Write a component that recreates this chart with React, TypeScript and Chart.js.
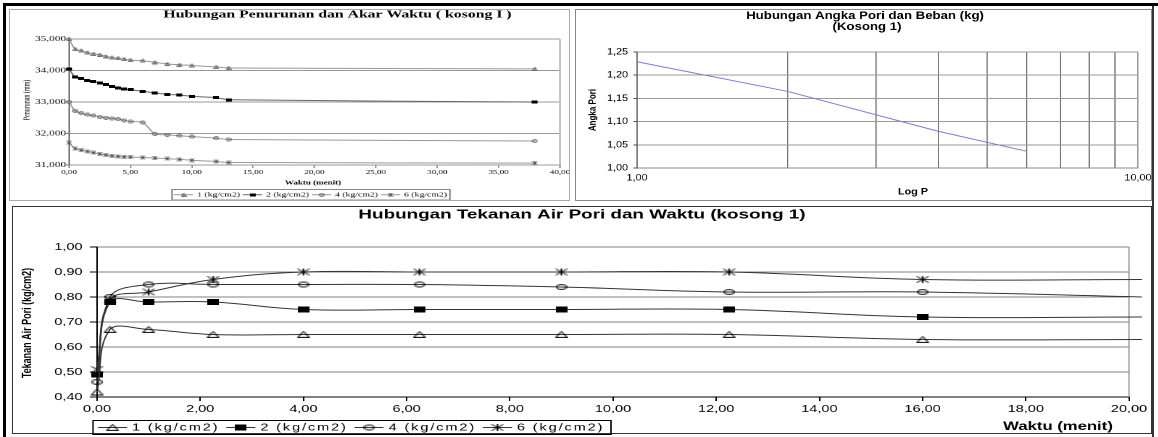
import React, { useEffect, useRef } from "react";
import { Chart, registerables } from "chart.js";
Chart.register(...registerables);

// ---------------- DATA ----------------
const seriesLabels = ["1 (kg/cm2)", "2 (kg/cm2)", "4 (kg/cm2)", "6 (kg/cm2)"];

// Chart 1: Hubungan Penurunan dan Akar Waktu (kosong I)
const akarWaktu = [0, 0.5, 1, 1.5, 2, 2.5, 3, 3.5, 4, 4.5, 5, 6, 7, 8, 9, 10, 12, 13, 37.95];
const penurunan1 = [35.0, 34.68, 34.63, 34.57, 34.53, 34.5, 34.45, 34.41, 34.39, 34.36, 34.33, 34.31, 34.26, 34.21, 34.18, 34.16, 34.11, 34.08, 34.05];
const penurunan2 = [34.05, 33.79, 33.74, 33.69, 33.65, 33.6, 33.55, 33.5, 33.45, 33.41, 33.39, 33.34, 33.29, 33.24, 33.22, 33.18, 33.14, 33.07, 33.0];
const penurunan4 = [33.0, 32.72, 32.65, 32.6, 32.57, 32.53, 32.5, 32.48, 32.46, 32.42, 32.38, 32.35, 31.99, 31.96, 31.93, 31.9, 31.85, 31.81, 31.76];
const penurunan6 = [31.71, 31.52, 31.47, 31.43, 31.39, 31.35, 31.32, 31.29, 31.27, 31.26, 31.25, 31.24, 31.22, 31.2, 31.18, 31.15, 31.11, 31.08, 31.06];
const penurunanAxis = [31, 35, 1]; // min, max, step
const akarWaktuAxis = [0, 40, 5];

// Chart 2: Hubungan Angka Pori dan Beban (Kosong 1)
const bebanP = [1, 2, 4, 6];
const angkaPori = [1.229, 1.165, 1.079, 1.036];
const angkaPoriAxis = [1.0, 1.25, 0.05];
const logPTicks = [1, 2, 3, 4, 5, 6, 7, 8, 9, 10];
const logPLabels = ["1,00", "10,00"];

// Chart 3: Hubungan Tekanan Air Pori dan Waktu (kosong 1)
const waktu = [0, 0.25, 1, 2.25, 4, 6.25, 9, 12.25, 16, 20.25];
const tekanan1 = [0.42, 0.67, 0.67, 0.65, 0.65, 0.65, 0.65, 0.65, 0.63, 0.63];
const tekanan2 = [0.49, 0.78, 0.78, 0.78, 0.75, 0.75, 0.75, 0.75, 0.72, 0.72];
const tekanan4 = [0.46, 0.8, 0.85, 0.85, 0.85, 0.85, 0.84, 0.82, 0.82, 0.8];
const tekanan6 = [0.51, 0.79, 0.82, 0.87, 0.9, 0.9, 0.9, 0.9, 0.87, 0.87];
const tekananAxis = [0.4, 1.0, 0.1];
const waktuAxis = [0, 20, 2];

// ---------------- HELPERS ----------------
const SANS = "'Liberation Sans', Arial, sans-serif";
const SERIF = "'Liberation Serif', 'Times New Roman', serif";
const fmt = (v: any, d: number) => Number(v).toFixed(d).replace(".", ",");

type Box = { x: number; y: number; w: number; h: number; lw: number };
const conv = (b: Box) => {
  const k = b.lw / b.w;
  return { X: (px: number) => (px - b.x) * k, Y: (py: number) => py - b.y, S: (d: number) => d * k };
};
function frameLayout(b: Box, a: { l: number; r: number; t: number; b: number }, xAxisH: number) {
  const c = conv(b);
  return {
    padding: { left: 0, top: c.Y(a.t), right: b.lw - c.X(a.r), bottom: b.h - c.Y(a.b) - xAxisH },
    yW: c.X(a.l),
  };
}

function marker(kind: string, w: number, h: number, color: string) {
  const c = document.createElement("canvas");
  c.width = w;
  c.height = h;
  const g = c.getContext("2d")!;
  g.strokeStyle = color;
  g.fillStyle = color;
  g.lineWidth = 1;
  g.beginPath();
  if (kind === "tri") {
    g.moveTo(w / 2, 0.5);
    g.lineTo(w - 0.5, h - 0.5);
    g.lineTo(0.5, h - 0.5);
    g.closePath();
    g.stroke();
  } else if (kind === "rect") {
    g.fillRect(0, 0, w, h);
  } else if (kind === "circ") {
    g.ellipse(w / 2, h / 2, w / 2 - 0.5, h / 2 - 0.5, 0, 0, Math.PI * 2);
    g.stroke();
  } else {
    g.moveTo(0.5, 0.5);
    g.lineTo(w - 0.5, h - 0.5);
    g.moveTo(w - 0.5, 0.5);
    g.lineTo(0.5, h - 0.5);
    g.moveTo(w / 2, 0);
    g.lineTo(w / 2, h);
    g.stroke();
  }
  return c;
}

const framePlugin = (color: string) => ({
  id: "frame",
  beforeDatasetsDraw(chart: any) {
    const { ctx, chartArea: a } = chart;
    ctx.save();
    ctx.strokeStyle = color;
    ctx.lineWidth = 1;
    ctx.beginPath();
    ctx.moveTo(a.right, a.top);
    ctx.lineTo(a.right, a.bottom);
    ctx.stroke();
    ctx.restore();
  },
});

type T = { text: string; x: number; y: number; font: string; rot?: number };
const textPlugin = (items: T[]) => ({
  id: "texts",
  afterDraw(chart: any) {
    const ctx = chart.ctx;
    items.forEach((t) => {
      ctx.save();
      ctx.font = t.font;
      ctx.fillStyle = "#000";
      ctx.textAlign = "center";
      ctx.textBaseline = "middle";
      ctx.translate(t.x, t.y);
      if (t.rot) ctx.rotate(t.rot);
      ctx.fillText(t.text, 0, 0);
      ctx.restore();
    });
  },
});

type LG = { x: number; y: number; w: number; h: number; x0: number; step: number; len: number; off: number; font: string; spacing?: string; box: string };
const legendPlugin = (g: LG) => ({
  id: "customLegend",
  afterDraw(chart: any) {
    const ctx = chart.ctx;
    ctx.save();
    ctx.strokeStyle = g.box;
    ctx.lineWidth = 1;
    ctx.strokeRect(g.x, g.y, g.w, g.h);
    const yc = g.y + g.h / 2;
    chart.data.datasets.forEach((ds: any, i: number) => {
      const x0 = g.x0 + i * g.step;
      ctx.strokeStyle = ds.borderColor;
      ctx.beginPath();
      ctx.moveTo(x0, yc);
      ctx.lineTo(x0 + g.len, yc);
      ctx.stroke();
      const img = ds.pointStyle;
      ctx.drawImage(img, x0 + g.len / 2 - img.width / 2, yc - img.height / 2);
      ctx.save();
      ctx.font = g.font;
      ctx.fillStyle = "#000";
      ctx.textAlign = "left";
      ctx.textBaseline = "middle";
      if (g.spacing) (ctx as any).letterSpacing = g.spacing;
      ctx.fillText(ds.label, x0 + g.off, yc);
      ctx.restore();
    });
    ctx.restore();
  },
});

// ---------------- CHART 1 ----------------
const TL: Box = { x: 10, y: 9, w: 559, h: 191, lw: 373 };
function makeTL(): any {
  const c = conv(TL);
  const lay = frameLayout(TL, { l: 69, r: 560, t: 39, b: 165 }, 12);
  const mk = [marker("tri", 4, 4, "#666"), marker("rect", 4, 3, "#000"), marker("circ", 4, 4, "#666"), marker("star", 4, 4, "#555")];
  const lineColors = ["#999", "#666", "#999", "#999"];
  const series = [penurunan1, penurunan2, penurunan4, penurunan6];
  return {
    type: "line",
    data: {
      datasets: series.map((s, i) => ({
        label: seriesLabels[i],
        data: akarWaktu.map((x, j) => ({ x, y: s[j] })),
        borderColor: lineColors[i],
        borderWidth: 1,
        pointStyle: mk[i],
        pointRadius: 2,
        tension: 0.3,
        clip: 6,
      })),
    },
    options: {
      responsive: false,
      animation: false,
      devicePixelRatio: 2,
      layout: { padding: lay.padding },
      plugins: { legend: { display: false }, tooltip: { enabled: false }, title: { display: false } },
      scales: {
        x: {
          type: "linear",
          min: akarWaktuAxis[0],
          max: akarWaktuAxis[1],
          ticks: { stepSize: akarWaktuAxis[2], callback: (v: any) => fmt(v, 2), font: { family: SERIF, size: 6 }, color: "#000", padding: 1, maxRotation: 0, autoSkip: false },
          grid: { drawOnChartArea: false, tickLength: 3, color: "#999" },
          border: { color: "#999" },
          afterFit: (s: any) => { s.height = 12; s.paddingLeft = 0; s.paddingRight = 0; },
        },
        y: {
          min: penurunanAxis[0],
          max: penurunanAxis[1],
          ticks: { stepSize: penurunanAxis[2], callback: (v: any) => fmt(v, 3), font: { family: SERIF, size: 7.5 }, color: "#000", padding: 0 },
          grid: { color: "#999", tickLength: 2, tickColor: "#777" },
          border: { color: "#777" },
          afterFit: (s: any) => { s.width = lay.yW; s.paddingTop = 0; s.paddingBottom = 0; },
        },
      },
    },
    plugins: [
      framePlugin("#bbb"),
      textPlugin([
        { text: "Hubungan Penurunan dan Akar Waktu ( kosong I )", x: c.X(337.5), y: c.Y(15), font: `bold 10.5px ${SERIF}` },
        { text: "Penurunan (mm)", x: c.X(27), y: c.Y(100), font: `6px ${SERIF}`, rot: -Math.PI / 2 },
        { text: "Waktu (menit)", x: c.X(313), y: c.Y(183), font: `bold 6px ${SERIF}` },
      ]),
      legendPlugin({
        x: c.X(172), y: c.Y(189.5), w: c.S(278), h: 10.5,
        x0: c.X(174), step: c.S(69), len: c.S(19), off: c.S(23),
        font: `6.5px ${SERIF}`, box: "#888",
      }),
    ],
  };
}

// ---------------- CHART 2 ----------------
const TR: Box = { x: 577, y: 9, w: 574, h: 191, lw: 478 };
function makeTR(): any {
  const c = conv(TR);
  const lay = frameLayout(TR, { l: 637, r: 1138, t: 52, b: 168 }, 16);
  const first = logPTicks[0];
  const last = logPTicks[logPTicks.length - 1];
  return {
    type: "line",
    data: {
      datasets: [
        {
          label: "Angka Pori",
          data: bebanP.map((x, i) => ({ x, y: angkaPori[i] })),
          borderColor: "#7b7bd6",
          borderWidth: 1,
          pointRadius: 0,
          tension: 0,
        },
      ],
    },
    options: {
      responsive: false,
      animation: false,
      devicePixelRatio: 2,
      layout: { padding: lay.padding },
      plugins: { legend: { display: false }, tooltip: { enabled: false }, title: { display: false } },
      scales: {
        x: {
          type: "logarithmic",
          min: first,
          max: last,
          afterBuildTicks: (s: any) => { s.ticks = logPTicks.map((v) => ({ value: v })); },
          ticks: {
            callback: (v: any) => (v === first ? logPLabels[0] : v === last ? logPLabels[1] : ""),
            font: { family: SANS, size: 9 }, color: "#000", padding: 4.6, maxRotation: 0, autoSkip: false,
          },
          grid: { color: "#777", drawTicks: false },
          border: { color: "#888" },
          afterFit: (s: any) => { s.height = 16; s.paddingLeft = 0; s.paddingRight = 0; },
        },
        y: {
          min: angkaPoriAxis[0],
          max: angkaPoriAxis[1],
          ticks: { stepSize: angkaPoriAxis[2], callback: (v: any) => fmt(v, 2), font: { family: SANS, size: 9 }, color: "#000", padding: 4.5 },
          grid: { color: "#999", tickLength: 3, tickColor: "#555" },
          border: { color: "#555" },
          afterFit: (s: any) => { s.width = lay.yW; s.paddingTop = 0; s.paddingBottom = 0; },
        },
      },
    },
    plugins: [
      framePlugin("#aaa"),
      textPlugin([
        { text: "Hubungan Angka Pori dan Beban (kg)", x: c.X(865), y: c.Y(16), font: `bold 11px ${SANS}` },
        { text: "(Kosong 1)", x: c.X(867), y: c.Y(27), font: `bold 11px ${SANS}` },
        { text: "Angka Pori", x: c.X(593), y: c.Y(110), font: `bold 8px ${SANS}`, rot: -Math.PI / 2 },
        { text: "Log P", x: c.X(913), y: c.Y(192), font: `bold 9px ${SANS}` },
      ]),
    ],
  };
}

// ---------------- CHART 3 ----------------
const BT: Box = { x: 13, y: 208, w: 1138, h: 229, lw: 785 };
function makeB(): any {
  const c = conv(BT);
  const lay = frameLayout(BT, { l: 97, r: 1129, t: 247, b: 397 }, 20);
  const mk = [marker("tri", 9, 7, "#000"), marker("rect", 8, 6, "#000"), marker("circ", 8, 6, "#000"), marker("star", 9, 7, "#000")];
  const series = [tekanan1, tekanan2, tekanan4, tekanan6];
  return {
    type: "line",
    data: {
      datasets: series.map((s, i) => ({
        label: seriesLabels[i],
        data: waktu.map((x, j) => ({ x, y: s[j] })),
        borderColor: "#333",
        borderWidth: 1,
        pointStyle: mk[i],
        pointRadius: waktu.map((_, j) => (j === waktu.length - 1 ? 0 : 3)),
        tension: 0.4,
        clip: 12,
      })),
    },
    options: {
      responsive: false,
      animation: false,
      devicePixelRatio: 2,
      layout: { padding: lay.padding },
      plugins: { legend: { display: false }, tooltip: { enabled: false }, title: { display: false } },
      scales: {
        x: {
          type: "linear",
          min: waktuAxis[0],
          max: waktuAxis[1],
          ticks: { stepSize: waktuAxis[2], callback: (v: any) => fmt(v, 2), font: { family: SANS, size: 10 }, color: "#000", padding: 2, maxRotation: 0, autoSkip: false },
          grid: { drawOnChartArea: false, tickLength: 4, color: "#000" },
          border: { color: "#000" },
          afterFit: (s: any) => { s.height = 20; s.paddingLeft = 0; s.paddingRight = 0; },
        },
        y: {
          min: tekananAxis[0],
          max: tekananAxis[1],
          ticks: { stepSize: tekananAxis[2], callback: (v: any) => fmt(v, 2), font: { family: SANS, size: 10 }, color: "#000", padding: 5 },
          grid: { color: "#808080", tickLength: 5, tickColor: "#000" },
          border: { color: "#000" },
          afterFit: (s: any) => { s.width = lay.yW; s.paddingTop = 0; s.paddingBottom = 0; },
        },
      },
    },
    plugins: [
      framePlugin("#999"),
      textPlugin([
        { text: "Hubungan Tekanan Air Pori dan Waktu (kosong 1)", x: c.X(582), y: c.Y(215), font: `bold 13px ${SANS}` },
        { text: "Tekanan Air Pori (kg/cm2)", x: c.X(27.5), y: c.Y(323), font: `bold 9px ${SANS}`, rot: -Math.PI / 2 },
        { text: "Waktu (menit)", x: c.X(1058), y: c.Y(427), font: `bold 11.5px ${SANS}` },
      ]),
      legendPlugin({
        x: c.X(93), y: c.Y(420.5), w: c.S(518), h: 14,
        x0: c.X(98), step: c.S(128.3), len: c.S(29), off: c.S(34),
        font: `10px ${SANS}`, spacing: "1.3px", box: "#000",
      }),
    ],
  };
}

// ---------------- COMPONENTS ----------------
function ChartBox({ box, make }: { box: Box; make: () => any }) {
  const ref = useRef<HTMLCanvasElement>(null);
  useEffect(() => {
    const chart = new Chart(ref.current as HTMLCanvasElement, make());
    return () => chart.destroy();
  }, []);
  return (
    <canvas
      ref={ref}
      width={box.lw}
      height={box.h}
      style={{ position: "absolute", left: box.x, top: box.y, width: box.w, height: box.h }}
    />
  );
}

const abs = (l: number, t: number, w: number, h: number, extra: any = {}) => ({
  position: "absolute" as const, left: l, top: t, width: w, height: h, boxSizing: "border-box" as const, ...extra,
});

export default function App() {
  return (
    <div style={{ position: "absolute", left: 0, top: 0, width: 1158, height: 437, background: "#fff", overflow: "hidden" }}>
      <div style={abs(3, 3, 1155, 3, { background: "#000" })} />
      <div style={abs(3, 3, 3, 434, { background: "#000" })} />
      <div style={abs(1152, 6, 2, 431, { background: "#333" })} />
      <div style={abs(9, 9, 561, 192, { border: "1px solid #aaa" })} />
      <div style={abs(575, 9, 577, 192, { border: "1px solid #888" })} />
      <div style={abs(12, 206, 1140, 228, { border: "1px solid #333" })} />
      <ChartBox box={TL} make={makeTL} />
      <ChartBox box={TR} make={makeTR} />
      <ChartBox box={BT} make={makeB} />
    </div>
  );
}
